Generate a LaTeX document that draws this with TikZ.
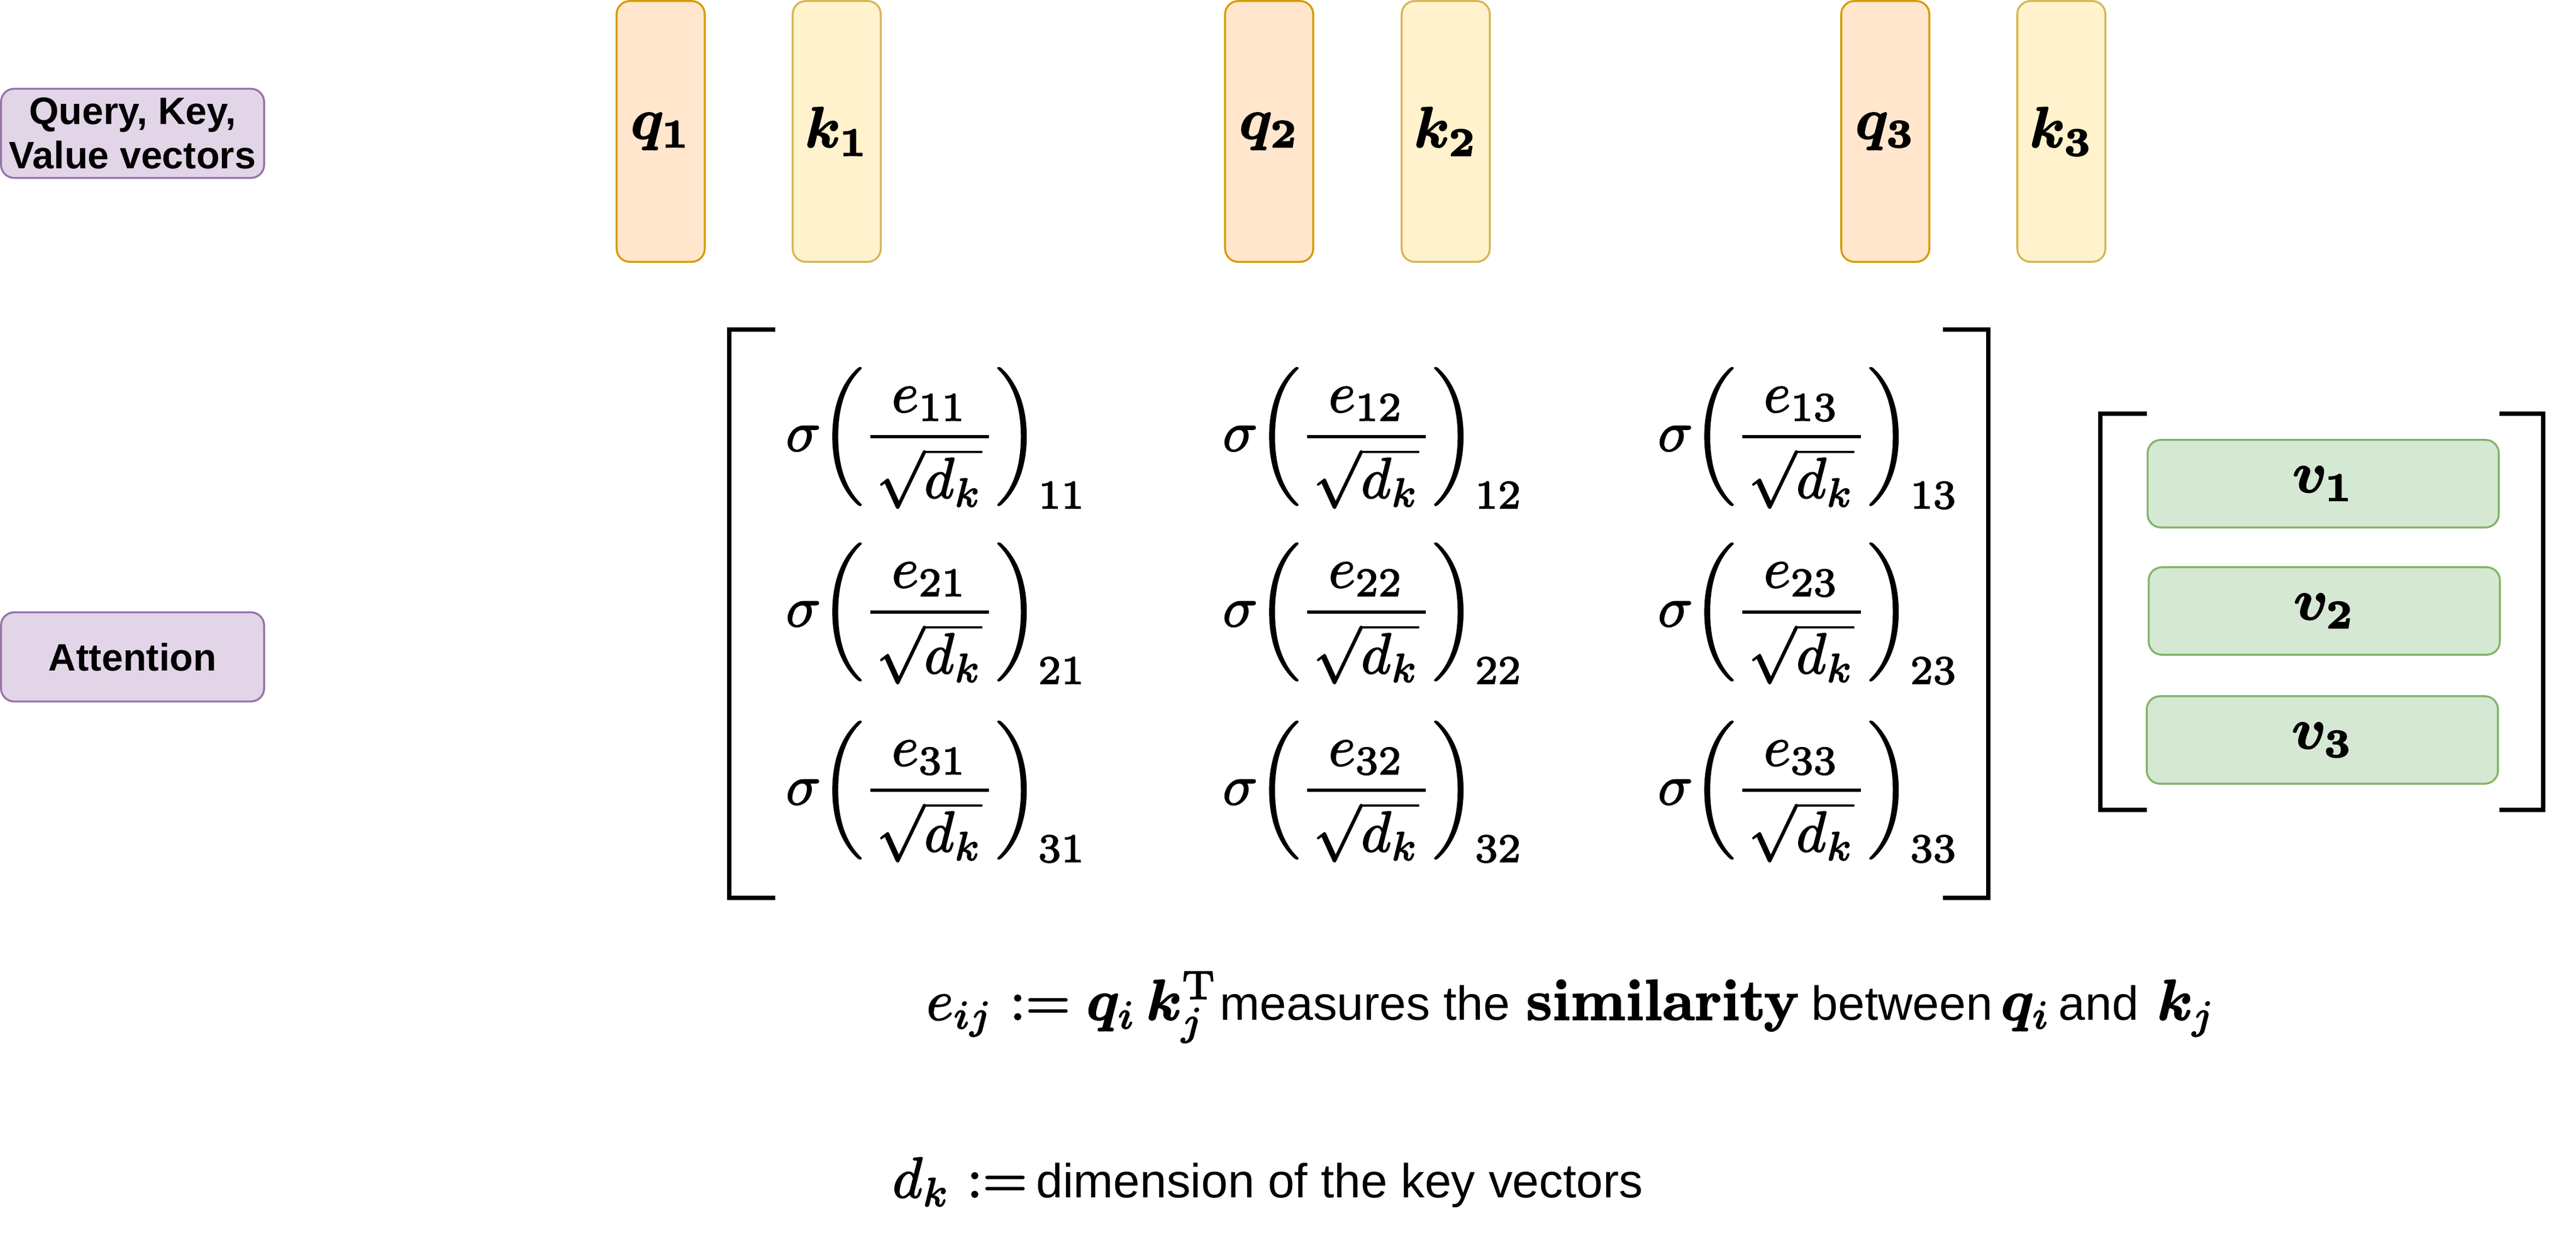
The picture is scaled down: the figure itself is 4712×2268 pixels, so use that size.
\RequirePackage{fix-cm}
\documentclass[tikz,border=0pt]{standalone}
\usepackage{amsmath}
\usepackage{bm}
\usepackage[no-math]{fontspec}
\newfontfamily\arialfont{Liberation Sans}
\definecolor{lblfill}{HTML}{E1D5E7}
\definecolor{lbldraw}{HTML}{9673A6}
\definecolor{qfill}{HTML}{FFE6CC}
\definecolor{qdraw}{HTML}{D79B00}
\definecolor{kfill}{HTML}{FFF2CC}
\definecolor{kdraw}{HTML}{D6B656}
\definecolor{vfill}{HTML}{D5E8D4}
\definecolor{vdraw}{HTML}{82B366}
% math set at the 10pt design size, then enlarged; glyphs slightly heavier
\newcommand{\bigmath}[1]{\scalebox{2.99}{\fontsize{10}{12}\selectfont\special{pdf:code 2 Tr 0.2 w}$#1$\special{pdf:code 0 Tr}}}
\newcommand{\attentry}[2]{\bigmath{\displaystyle\sigma\biggl(\genfrac{}{}{0.6pt}{0}{\mkern2mu e_{#1#2}\mkern2mu}{\mkern2mu\sqrt{d_k}\mkern2mu}\biggr)_{#1#2}}}
\tikzset{
  basebox/.style={rounded corners=0.24cm, line width=1pt, inner sep=0pt, align=center},
  lblbox/.style={basebox, draw=lbldraw, fill=lblfill, minimum width=4.81cm, minimum height=1.63cm,
    font=\arialfont\bfseries\fontsize{19.9}{23}\selectfont},
  qbox/.style={basebox, draw=qdraw, fill=qfill, minimum width=1.61cm, minimum height=4.77cm},
  kbox/.style={basebox, draw=kdraw, fill=kfill, minimum width=1.61cm, minimum height=4.77cm},
  vbox/.style={basebox, draw=vdraw, fill=vfill, minimum width=6.42cm, minimum height=1.60cm},
  entry/.style={anchor=base west, inner sep=0pt},
  bottomtext/.style={anchor=base west, inner sep=0pt, font=\arialfont\fontsize{24.9}{30}\selectfont},
  brk/.style={line width=0.08cm, line join=miter, line cap=rect},
}
\begin{document}
\begin{tikzpicture}[x=0.01cm, y=-0.01cm]
\useasboundingbox (0,0) rectangle (4712,2268);

% side labels
\node[lblbox] (lblqkv) at (242.5,244) {Query, Key,\\Value vectors};
\node[lblbox] (lblatt) at (242.5,1202) {Attention};

% query / key vectors
\node[qbox] (q1) at (1208.5,240.5) {\bigmath{\bm{q_1}}};
\node[kbox] (k1) at (1530.5,240.5) {\bigmath{\bm{k_1}}};
\node[qbox] (q2) at (2321.5,240.5) {\bigmath{\bm{q_2}}};
\node[kbox] (k2) at (2644.5,240.5) {\bigmath{\bm{k_2}}};
\node[qbox] (q3) at (3448.5,240.5) {\bigmath{\bm{q_3}}};
\node[kbox] (k3) at (3770.5,240.5) {\bigmath{\bm{k_3}}};

% attention matrix entries
\foreach \r/\yy in {1/825,2/1146,3/1472}{
  \foreach \c/\xx in {1/1437,2/2236,3/3032}{
    \node[entry] (a\r\c) at (\xx,\yy) {\attentry{\r}{\c}};
  }
}

% matrix brackets
\coordinate (mlt) at (1414,603);
\coordinate (mlb) at (1414,1643);
\coordinate (mrt) at (3558,603);
\coordinate (mrb) at (3558,1643);
\draw[brk] (mlt) -- (1334,603) -- (1334,1643) -- (mlb);
\draw[brk] (mrt) -- (3637,603) -- (3637,1643) -- (mrb);

% value vectors
\node[vbox] (v1) at (4249.5,885) {\bigmath{\bm{v_1}}};
\node[vbox] (v2) at (4251.5,1118) {\bigmath{\bm{v_2}}};
\node[vbox] (v3) at (4248,1354) {\bigmath{\bm{v_3}}};

\coordinate (vlt) at (3923,757);
\coordinate (vlb) at (3923,1482);
\coordinate (vrt) at (4576,757);
\coordinate (vrb) at (4576,1482);
\draw[brk] (vlt) -- (3842,757) -- (3842,1482) -- (vlb);
\draw[brk] (vrt) -- (4652,757) -- (4652,1482) -- (vrb);

% explanation: e_ij
\node[bottomtext] (eijdef) at (1694,1866) {\bigmath{e_{ij} := \bm{q}_i\,\bm{k}_j^{\mathrm{T}}}};
\node[bottomtext] (txtmeas) at (2231,1866) {measures the};
\node[bottomtext] (txtsim) at (2791,1866) {\bigmath{\mathbf{similarity}}};
\node[bottomtext] (txtbetw) at (3313,1866) {between};
\node[bottomtext] (txtqi) at (3659,1866) {\bigmath{\bm{q}_i}};
\node[bottomtext] (txtand) at (3765,1866) {and};
\node[bottomtext] (txtkj) at (3945,1866) {\bigmath{\bm{k}_j}};

% explanation: d_k
\node[bottomtext] (dkdef) at (1632,2191) {\bigmath{d_k :=}};
\node[bottomtext] (dktxt) at (1895,2191) {dimension of the key vectors};
\end{tikzpicture}
\end{document}
